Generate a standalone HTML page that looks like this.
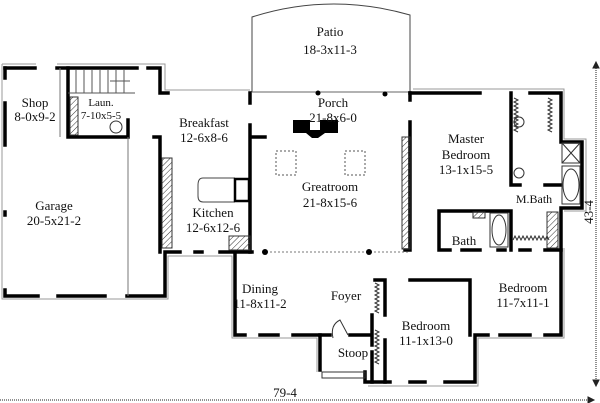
<!DOCTYPE html>
<html><head><style>
html,body{margin:0;padding:0;background:#fff;width:600px;height:403px;overflow:hidden}
svg{display:block}
text{font-family:"Liberation Serif","DejaVu Serif",serif;font-size:13px;fill:#111;text-anchor:middle}
</style></head><body>
<svg width="600" height="403" viewBox="0 0 600 403" xmlns="http://www.w3.org/2000/svg">
<defs>
<pattern id="h" width="4" height="4" patternUnits="userSpaceOnUse" patternTransform="rotate(45)">
<line x1="0" y1="0" x2="0" y2="4" stroke="#333" stroke-width="1"/></pattern>
</defs>
<path d="M252 92 V17 Q330 -8 410 15 V92" fill="none" stroke="#444" stroke-width="1"/>
<line x1="252" y1="92" x2="410" y2="92" stroke="#666" stroke-width="1"/>
<circle cx="318" cy="93" r="2.5" fill="#000"/><circle cx="385" cy="94" r="2.5" fill="#000"/>
<g fill="none" stroke="#999" stroke-width="1">
<path d="M2 64 H36 M57 64 H165 V90 H250"/>
<path d="M2 64 V299 H168 V256 H232 V338 H317 V372 M368 386 H478 V338 H564 V248"/>
<path d="M413 89 H564 V139 H586 V211 H564"/>
</g>
<g fill="none" stroke="#000" stroke-width="3.5" stroke-linecap="square">
<path d="M5 68 H35 M57 68 H137 M148 68 H160 V93 H168"/>
<path d="M5 68 V78 M5 103 V145 M5 212 V215 M5 290 V296 H38 M58 296 H105 M127 296 H165 V252 H180 M195 252 H202 M220 252 H252"/>
<path d="M235 252 V335 H245 M260 335 H278 M293 335 H320 V370"/>
<path d="M365 372 V382 H390 M410 382 H425 M445 382 H475 V335 H488 M500 335 H530 M545 335 H561 V208 H582 V142 H561 V93 H530 M480 93 H410"/>
<path d="M250 93 V103 M250 125 V137 H265 M250 135 V252"/>
<path d="M410 93 V100 M410 122 V250 H405"/>
<path d="M68 68 V137 H128 V120 M154 137 H160 V252"/>
<path d="M511 93 V185 M511 185 H520 M545 185 H560"/>
<path d="M439 211 H511 V250 M439 211 V250 H450 M462 250 H480 M498 250 H505 M520 250 H530 M545 250 H561"/>
<path d="M410 280 H470 V335 M385 280 H375 M385 280 V315 M372 315 V345 M385 340 V382 M372 352 V382 M320 335 H330 M350 335 H372"/>
</g>
<path d="M128 137 V296" stroke="#777" stroke-width="1"/>
<path d="M60 68 V137" stroke="#777" stroke-width="1"/>
<g stroke="#555" stroke-width="1">
<line x1="68" y1="93" x2="135" y2="93"/>
<line x1="76" y1="70" x2="76" y2="93"/><line x1="84" y1="70" x2="84" y2="93"/><line x1="92" y1="70" x2="92" y2="93"/><line x1="100" y1="70" x2="100" y2="93"/><line x1="108" y1="70" x2="108" y2="93"/><line x1="116" y1="70" x2="116" y2="93"/><line x1="124" y1="70" x2="124" y2="93"/>
<line x1="110" y1="81" x2="130" y2="81"/>
</g>
<rect x="70" y="97" width="8" height="38" fill="url(#h)" stroke="#333" stroke-width="1"/>
<rect x="162" y="158" width="10" height="90" fill="url(#h)" stroke="#333"/>
<rect x="229" y="236" width="21" height="14" fill="url(#h)" stroke="#333"/>
<rect x="402" y="137" width="8" height="112" fill="url(#h)" stroke="#333"/>
<rect x="547" y="212" width="11" height="36" fill="url(#h)" stroke="#333"/>
<rect x="473" y="212" width="12" height="6" fill="url(#h)" stroke="#333"/>
<circle cx="116" cy="127" r="6" fill="none" stroke="#333"/>
<path d="M235 178 H203 Q198 178 198 185 V196 Q198 202 203 202 H235" fill="none" stroke="#444"/>
<rect x="235" y="179" width="14" height="22" fill="none" stroke="#000" stroke-width="2.5"/>
<path d="M293 120 H310 V130 H320 V120 H338 V133 H325 L318 138 H312 L306 133 H293 Z" fill="#000"/>
<rect x="276" y="151" width="20" height="24" fill="none" stroke="#555" stroke-dasharray="2 2"/>
<rect x="345" y="151" width="20" height="24" fill="none" stroke="#555" stroke-dasharray="2 2"/>
<path d="M262 252 H410" stroke="#777" stroke-dasharray="2 2"/>
<circle cx="265" cy="252" r="3" fill="#000"/><circle cx="369" cy="252" r="3" fill="#000"/>
<g fill="none" stroke="#333" stroke-width="1">
<path d="M514 98 l4 2 -4 2 4 2 -4 2 4 2 -4 2 4 2 -4 2 4 2 -4 2 4 2 -4 2 4 2 -4 2 4 2 -4 2 4 2"/>
<path d="M548 98 l4 2 -4 2 4 2 -4 2 4 2 -4 2 4 2 -4 2 4 2 -4 2 4 2 -4 2 4 2 -4 2 4 2 -4 2 4 2"/>
<path d="M513 240 l2 -4 2 4 2 -4 2 4 2 -4 2 4 2 -4 2 4 2 -4 2 4 2 -4 2 4 2 -4 2 4 2 -4 2 4 2 -4 2 4"/>
<path d="M375 283 l4 2 -4 2 4 2 -4 2 4 2 -4 2 4 2 -4 2 4 2 -4 2 4 2 -4 2 4 2 -4 2 4 2"/>
<path d="M375 330 l4 2 -4 2 4 2 -4 2 4 2 -4 2 4 2 -4 2 4 2 -4 2 4 2 -4 2 4 2 -4 2 4 2 -4 2 4 2"/>
<rect x="562" y="143" width="18" height="20" /><path d="M562 143 L580 163 M580 143 L562 163"/>
<rect x="562" y="166" width="18" height="38"/><ellipse cx="571" cy="185" rx="8" ry="16"/>
<rect x="490" y="213" width="18" height="34"/><ellipse cx="499" cy="230" rx="7" ry="15"/>
<ellipse cx="519" cy="122" rx="5" ry="5"/><ellipse cx="519" cy="173" rx="5" ry="5"/>
<path d="M333 338 Q330 325 340 320 L348 335"/>
<path d="M322 372 H365 V378 H322 Z"/>
</g>
<g stroke="#222" stroke-width="1" fill="#222">
<line x1="0" y1="400" x2="588" y2="400" stroke-dasharray="1 1"/>
<path d="M588 397 L594 400 L588 403 Z"/>
<line x1="596" y1="68" x2="596" y2="380" stroke-dasharray="1 1"/>
<path d="M593 68 L596 62 L599 68 Z"/><path d="M593 380 L596 386 L599 380 Z"/>
</g>
<text x="285" y="397">79-4</text>
<text transform="translate(593 212) rotate(-90)">43-4</text>
<text x="330" y="36">Patio</text><text x="330" y="54">18-3x11-3</text>
<text x="333" y="107">Porch</text><text x="333" y="122">21-8x6-0</text>
<text x="35" y="107">Shop</text><text x="35" y="121">8-0x9-2</text>
<text x="101" y="106" style="font-size:11px">Laun.</text><text x="101" y="119" style="font-size:11px">7-10x5-5</text>
<text x="204" y="127">Breakfast</text><text x="204" y="142">12-6x8-6</text>
<text x="466" y="143">Master</text><text x="466" y="159">Bedroom</text><text x="466" y="174">13-1x15-5</text>
<text x="330" y="191">Greatroom</text><text x="330" y="207">21-8x15-6</text>
<text x="534" y="203" style="font-size:12px">M.Bath</text>
<text x="54" y="210">Garage</text><text x="54" y="225">20-5x21-2</text>
<text x="213" y="217">Kitchen</text><text x="213" y="232">12-6x12-6</text>
<text x="464" y="245">Bath</text>
<text x="260" y="293">Dining</text><text x="260" y="308">11-8x11-2</text>
<text x="346" y="300">Foyer</text>
<text x="523" y="292">Bedroom</text><text x="523" y="307">11-7x11-1</text>
<text x="426" y="330">Bedroom</text><text x="426" y="345">11-1x13-0</text>
<text x="353" y="357">Stoop</text>
</svg>
</body></html>
